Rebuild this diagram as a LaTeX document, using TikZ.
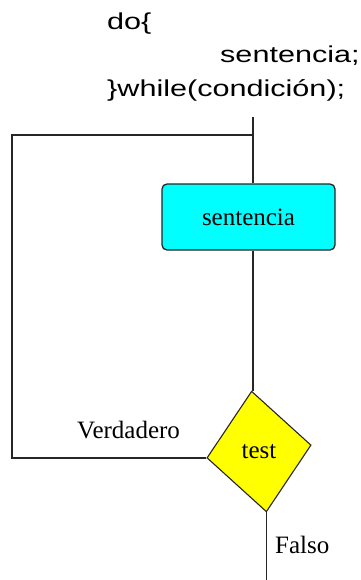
\documentclass[tikz,border=0pt]{standalone}
\usepackage{fontspec}
\usepackage{tikz}
\usetikzlibrary{shapes.geometric}
\newfontfamily\codefont[FakeStretch=1.33]{Liberation Sans}
\newfontfamily\chartfont{Liberation Serif}
\definecolor{boxcyan}{RGB}{0,255,255}
\definecolor{testyellow}{RGB}{255,255,0}
\tikzset{
	codeline/.style={anchor=base west, inner sep=0, font=\codefont\fontsize{23}{27}\selectfont},
	chartword/.style={inner sep=0, font=\chartfont\fontsize{25}{29}\selectfont},
	wire/.style={line width=1.3pt, color=black!85},
}

\begin{document}
\begin{tikzpicture}[x=1pt, y=-1pt]
		%%%%% START %%%%%
		\useasboundingbox (0, 0) rectangle (360, 580);
		
		\node[codeline] (dotop) at (107, 30) {do\{};
		\node[codeline] (dobody) at (220, 63) {sentencia;};
		\node[codeline] (doend) at (107, 97) {\}while(condición);};
		
		\node[draw=black!85, line width=1.3pt, fill=boxcyan, rounded corners=5pt, minimum width=173pt, minimum height=66pt, chartword] (body) at (248.5, 217) {sentencia};
		
		\node[diamond, draw=black!85, line width=1.1pt, fill=testyellow, inner sep=0, minimum width=105pt, minimum height=121.6pt, rotate=7] (test) at (259, 451.5) {};
		\node[chartword] (testword) at (test) {test};
		
		\coordinate (entry) at (253, 117);
		\coordinate (join) at (253, 135);
		\coordinate (corner) at (12, 135);
		\coordinate (exit) at (test.south |- 0, 580);
		
		\draw[wire] (entry) -- (entry |- body.north);
		\draw[wire] (entry |- body.south) -- (entry |- test.north) -- (test.north);
		\draw[wire] (test.west) -| (corner) -- (join);
		\draw[wire] (test.south) -- (exit);
		
		\node[chartword, anchor=base west] (yes) at (77, 438) {Verdadero};
		\node[chartword, anchor=base west] (no) at (275, 553) {Falso};
		%%%%% END %%%%%
	\end{tikzpicture}
\end{document}
